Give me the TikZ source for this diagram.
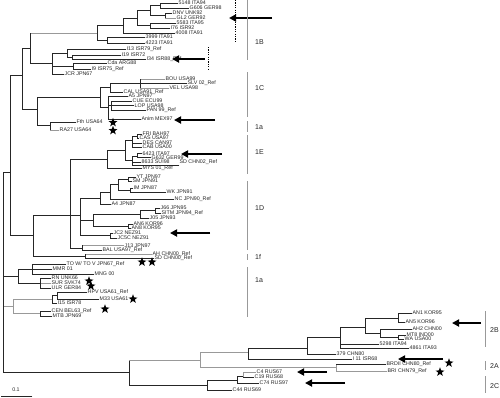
\documentclass[tikz,border=0pt]{standalone}
\usepackage{fontspec}
\setmainfont{Liberation Sans}
\usetikzlibrary{arrows.meta,shapes.geometric}
\tikzset{
 br/.style={line width=0.6pt, draw=black!85, line cap=rect},
 gr/.style={line width=0.6pt, draw=black!40, line cap=rect},
 lab/.style={anchor=west, inner sep=0.4pt, font=\fontsize{5.3}{5.3}\selectfont, text=black!85},
 bar/.style={line width=0.8pt, draw=black!40},
 grp/.style={anchor=west, inner sep=0pt, font=\fontsize{7}{7}\selectfont, text=black!85},
 bigarrow/.style={line width=2.4pt, -{Triangle[length=7pt,width=7pt]}},
 starn/.style={star, star points=5, star point ratio=2.5, fill=black, inner sep=0pt, minimum size=9.5pt},
 dots/.style={line width=0.9pt, dash pattern=on 1.2pt off 1.2pt},
}
\newcommand{\Lf}[6][br]{\draw[#1] (#2,#4) -- (#3,#4) node[lab] (#5) {#6};}
\newcommand{\Vt}[4][br]{\draw[#1] (#2,#3) -- (#2,#4);}
\newcommand{\Hz}[4][br]{\draw[#1] (#2,#4) -- (#3,#4);}
\begin{document}
\begin{tikzpicture}[x=1pt,y=-1pt]
\useasboundingbox (0,0) rectangle (500,397);
\fill[white] (0,0) rectangle (500,397);
% ---------- 1B
\Lf{160}{178}{3}{t5148}{5148 ITA94}
\Lf{160}{189}{8}{tG606}{G606 GER98}
\Vt{160}{3}{8}
\Lf{165}{172}{13}{tDNV}{DNV UNK92}
\Lf[gr]{165}{176}{18}{tGL2}{GL2 GER92}
\Vt{165}{13}{18}
\Hz{150}{160}{5.5}
\Hz{150}{165}{15.5}
\Vt{150}{5.5}{15.5}
\Lf{150}{176}{23}{t5583}{5583 ITA95}
\Lf{150}{170}{28}{tI76}{I76 ISR92}
\Vt{150}{23}{28}
\Hz{137}{150}{10.5}
\Hz{137}{150}{25.5}
\Vt{137}{10.5}{25.5}
\Hz{123}{137}{18}
\Lf{123}{175}{33}{t4008}{4008 ITA91}
\Vt{123}{18}{33}
\Lf{107}{145}{37}{t3999}{3999 ITA91}
\Lf{107}{145}{43}{t4223}{4223 ITA91}
\Vt{107}{37}{43}
\Hz{97}{123}{25.5}
\Hz{97}{107}{40}
\Vt{97}{25.5}{40}
\Hz[gr]{30}{97}{33}
\Lf{72}{121}{55}{tI19}{I19 ISR72}
\Lf{72}{146}{59}{tI34}{I34 ISR88\_Ref}
\Vt{72}{55}{59}
\Lf{67}{126}{49}{tI13}{I13 ISR79\_Ref}
\Hz{67}{72}{57}
\Vt{67}{49}{57}
\Lf{73}{107}{63}{tCda}{Cda ARG88}
\Lf{73}{91}{69}{tI9}{I9 ISR75\_Ref}
\Vt{73}{63}{69}
\Hz{52}{67}{53}
\Hz{52}{73}{66}
\Lf{52}{64}{74}{tJCR}{JCR JPN67}
\Vt{52}{53}{74}
\Hz{30}{52}{63}
\Vt{30}{33}{63}
\Hz{22}{30}{48}
% ---------- 1C
\Lf[gr]{140}{165}{79}{tBOU}{BOU USA99}
\Lf{140}{187}{83}{tSLV}{SLV 02\_Ref}
\Lf[gr]{140}{169}{88}{tVEL}{VEL USA98}
\Vt{140}{79}{88}
\Hz{110}{140}{83}
\Lf{110}{123}{92}{tCAL}{CAL USA91\_Ref}
\Vt{110}{83}{92}
\Lf{111}{132}{101}{tCUE}{CUE ECU99}
\Lf{111}{134}{105.5}{tLOP}{LOP USA98}
\Lf{111}{146}{110.5}{tPAN}{PAN 99\_Ref}
\Vt{111}{101}{110.5}
\Lf{108}{128}{96}{tA5}{A5 JPN97}
\Hz{108}{111}{105}
\Lf{108}{141}{119}{tAnim}{Anim MEX97}
\Vt{108}{96}{119}
\Hz{100}{110}{87}
\Hz{100}{108}{107}
\Vt{100}{87}{107}
\Hz{37}{100}{97}
\Lf{50}{76}{122}{tFth}{Fth USA64}
\Lf[gr]{50}{59}{130}{tRA27}{RA27 USA64}
\Vt{50}{122}{130}
\Hz{37}{50}{125}
\Vt{37}{97}{125}
\Hz{22}{37}{109}
\Vt{22}{48}{109}
\Hz{10}{22}{75}
% ---------- 1E
\Lf{137}{142}{134}{tFRI}{FRI BAH97}
\Lf{137}{139}{138}{tCAS}{CAS USA97}
\Vt{137}{134}{138}
\Hz{132}{137}{136}
\Lf{132}{142}{143}{tDES}{DES CAN97}
\Lf{132}{142}{147}{tCAB}{CAB USA00}
\Vt{132}{136}{147}
\Lf{137}{142}{153.5}{t6423}{6423 ITA97}
\Lf{137}{151}{157.5}{tG632}{G632 GER99}
\Vt{137}{153.5}{157.5}
\Hz{132}{137}{156}
\Lf{132}{141}{162}{t8633}{8633 SUI98}
\draw[br] (132,165) -- (179,165);
\node[lab] (tSD02) at (179,162) {SD CHN02\_Ref};
\Vt{132}{156}{165}
\Hz{125}{132}{140}
\Hz{125}{132}{160}
\Vt{125}{140}{160}
\Hz{107}{125}{150}
\Lf{107}{142}{168}{tMYS}{MYS 01\_Ref}
\Vt{107}{150}{168}
\Hz{70}{107}{159}
% ---------- 1D
\Lf{128}{136}{177}{tYT}{YT JPN97}
\Lf{128}{132}{181}{tSM}{SM JPN91}
\Vt{128}{177}{181}
\Lf{130}{133}{188}{tIM}{IM JPN87}
\Lf{130}{166}{192}{tWK}{WK JPN91}
\Vt{130}{188}{192}
\Hz{118}{128}{179}
\Hz{118}{130}{190}
\Vt{118}{179}{190}
\Hz{110}{118}{184}
\Lf{110}{174}{199}{tNC}{NC JPN90\_Ref}
\Vt{110}{184}{199}
\Hz{100}{110}{192}
\Lf{100}{111}{204}{tA4}{A4 JPN87}
\Vt{100}{192}{204}
\Lf{155}{160}{208}{tJ66}{J66 JPN95}
\Lf{155}{161}{213}{tSITM}{SITM JPN94\_Ref}
\Vt{155}{208}{213}
\Hz{140}{155}{210.5}
\Lf{140}{149}{218}{tJ05}{J05 JPN93}
\Vt{140}{210.5}{218}
\Lf{128}{133}{224}{tAN6}{AN6 KOR96}
\Lf{128}{131}{228}{tAN8}{AN8 KOR95}
\Vt{128}{224}{228}
\Hz{93}{140}{214}
\Hz{93}{128}{226}
\Vt{93}{214}{226}
\Lf{110}{113}{233}{tJC2}{JC2 NEZ91}
\Lf{110}{117}{238}{tJC5}{JC5C NEZ91}
\Vt{110}{233}{238}
\Hz{80}{100}{198}
\Hz{80}{93}{220}
\Hz{80}{110}{235}
\Vt{80}{198}{235}
\Lf[gr]{82}{124}{245.5}{tJ13}{J13 JPN97}
\Lf{82}{102}{250.5}{tBAL}{BAL USA97\_Ref}
\Vt{82}{245.5}{250.5}
\Hz{70}{80}{215}
\Hz{70}{82}{248}
\Vt{70}{159}{248}
\Hz{33}{70}{215}
% ---------- 1f
\Lf[gr]{85}{152}{254}{tAH}{AH CHN00\_Ref}
\Lf{85}{154}{258.5}{tSD00}{SD CHN00\_Ref}
\Vt{85}{254}{258.5}
\Hz{33}{85}{256}
\Vt{33}{215}{256}
\Hz{10}{33}{235}
\Vt{10}{75}{235}
% ---------- 1a lower
\Lf{32}{66}{264}{tTOW}{TO W/ TO V JPN67\_Ref}
\Lf{32}{52}{269}{tMMR}{MMR 01}
\Lf{32}{94}{274}{tMNG}{MNG 00}
\Vt{32}{264}{274}
\Lf{40}{51}{278}{tRN}{RN UNK66}
\Lf[gr]{40}{51}{283}{tSUR}{SUR SVK74}
\Lf{40}{51}{288}{tULR}{ULR GER84}
\Vt{40}{278}{288}
\Hz{18}{32}{269}
\Hz{18}{40}{283}
\Vt{18}{269}{283}
\Hz{3}{18}{276}
\Lf{57}{87}{292}{tHPV}{HPV USA61\_Ref}
\Lf{57}{99}{299}{tM33}{M33 USA61}
\Vt{57}{292}{299}
\Hz{52}{57}{295.5}
\Lf{52}{57}{303}{tI15}{I15 ISR78}
\Vt{52}{295.5}{303}
\Lf{40}{51}{311}{tCEN}{CEN BEL63\_Ref}
\Lf{40}{52}{316}{tMTB}{MTB JPN69}
\Vt{40}{311}{316}
\Hz[gr]{13}{52}{299}
\Hz[gr]{13}{40}{313.5}
\Vt[gr]{13}{299}{313.5}
\Hz[gr]{3}{13}{306}
% ---------- root
\Vt{3}{172}{372}
\Hz{3}{10}{172}
\Hz{3}{129}{372}
% ---------- genotype 2
\Vt{129}{360}{385}
\Hz[gr]{129}{200}{360}
\Vt[gr]{200}{352}{367}
\Hz[gr]{200}{248}{352}
\Hz[gr]{200}{336}{367}
\Vt{248}{348}{359}
\Hz{248}{307}{348}
\Lf{248}{352}{359}{tI11}{I 11 ISR68}
\Vt{307}{337}{354}
\Hz{307}{340}{337}
\Lf{307}{336}{354}{t379}{379 CHN80}
\Vt{340}{327}{348}
\Hz{340}{365}{327}
\Lf{340}{379}{344}{t5298}{5298 ITA94}
\Lf{340}{409}{348}{t4861}{4861 ITA93}
\Vt{365}{318}{333}
\Hz{365}{398}{318}
\Hz{365}{380}{333}
\Lf{398}{412}{313}{tAN1}{AN1 KOR95}
\Lf{398}{405}{322}{tAN5}{AN5 KOR96}
\Vt{398}{313}{322}
\Vt{380}{329}{337}
\Lf{380}{412}{329}{tAH2}{AH2 CHN00}
\Hz{380}{398}{337}
\Lf{398}{406}{335}{tMT8}{MT8 IND00}
\Lf{398}{404}{339}{tWA}{WA USA00}
\Vt{398}{335}{339}
\Vt[gr]{336}{364}{371}
\Lf{336}{386}{364}{tBRD}{BRDII CHN80\_Ref}
\Lf[gr]{336}{387}{371}{tBRI}{BRI CHN79\_Ref}
\Hz{129}{207}{385}
\Vt{207}{380}{390}
\Hz{207}{237}{380}
\Lf{207}{232}{390}{tC44}{C44 RUS69}
\Vt{237}{376}{383}
\Hz{237}{243}{376}
\Lf{237}{259}{383}{tC74}{C74 RUS97}
\Vt[gr]{243}{372}{377}
\Lf[gr]{243}{256}{372}{tC4}{C4 RUS67}
\Lf{243}{254}{377}{tC19}{C19 RUS68}
% ---------- stars
\node[starn] (s1) at (113,122.5) {};
\node[starn] (s2) at (113,130.5) {};
\node[starn] (s3) at (142,262) {};
\node[starn] (s4) at (152,262) {};
\node[starn] (s5) at (89,281) {};
\node[starn] (s6) at (91,286) {};
\node[starn] (s7) at (133,299) {};
\node[starn] (s8) at (105,309) {};
\node[starn] (s9) at (449,363) {};
\node[starn] (s10) at (440,372) {};
% ---------- arrows
\coordinate (a1t) at (272,18); \coordinate (a1h) at (229,18);
\coordinate (a2t) at (205,59); \coordinate (a2h) at (172,59);
\coordinate (a3t) at (215,120); \coordinate (a3h) at (174,120);
\coordinate (a4t) at (222,154); \coordinate (a4h) at (181,154);
\coordinate (a5t) at (210,233); \coordinate (a5h) at (170,233);
\coordinate (a6t) at (481,323); \coordinate (a6h) at (452,323);
\coordinate (a7t) at (443,359); \coordinate (a7h) at (398,359);
\coordinate (a8t) at (327,372); \coordinate (a8h) at (297,372);
\coordinate (a9t) at (345,383); \coordinate (a9h) at (305,383);
\foreach \i in {1,...,9} {\draw[bigarrow] (a\i t) -- (a\i h);}
% ---------- dotted lines
\draw[dots] (235,0) -- (235,42);
\draw[dots] (208,47) -- (208,70);
% ---------- group bars
\draw[bar] (247,0) -- (247,60);   \node[grp] (g1B) at (255,42) {1B};
\draw[bar] (247,72) -- (247,117); \node[grp] (g1C) at (255,88) {1C};
\draw[bar] (247,121) -- (247,132); \node[grp] (g1a) at (255,127) {1a};
\draw[bar] (247,135) -- (247,174); \node[grp] (g1E) at (255,152) {1E};
\draw[bar] (247,181) -- (247,250); \node[grp] (g1D) at (255,208) {1D};
\draw[bar] (247,254) -- (247,260); \node[grp] (g1f) at (255,257) {1f};
\draw[bar] (247,267) -- (247,317); \node[grp] (g1a2) at (255,280) {1a};
\draw[bar] (485,311) -- (485,347); \node[grp] (g2B) at (490,330) {2B};
\draw[bar] (485,361) -- (485,370); \node[grp] (g2A) at (490,366) {2A};
\draw[bar] (485,376) -- (485,393); \node[grp] (g2C) at (490,386) {2C};
% ---------- scale
\coordinate (sc1) at (1,396); \coordinate (sc2) at (32,396);
\draw[br] (sc1) -- (sc2);
\node[lab, anchor=center] (scl) at (16,390) {0.1};
\end{tikzpicture}
\end{document}
